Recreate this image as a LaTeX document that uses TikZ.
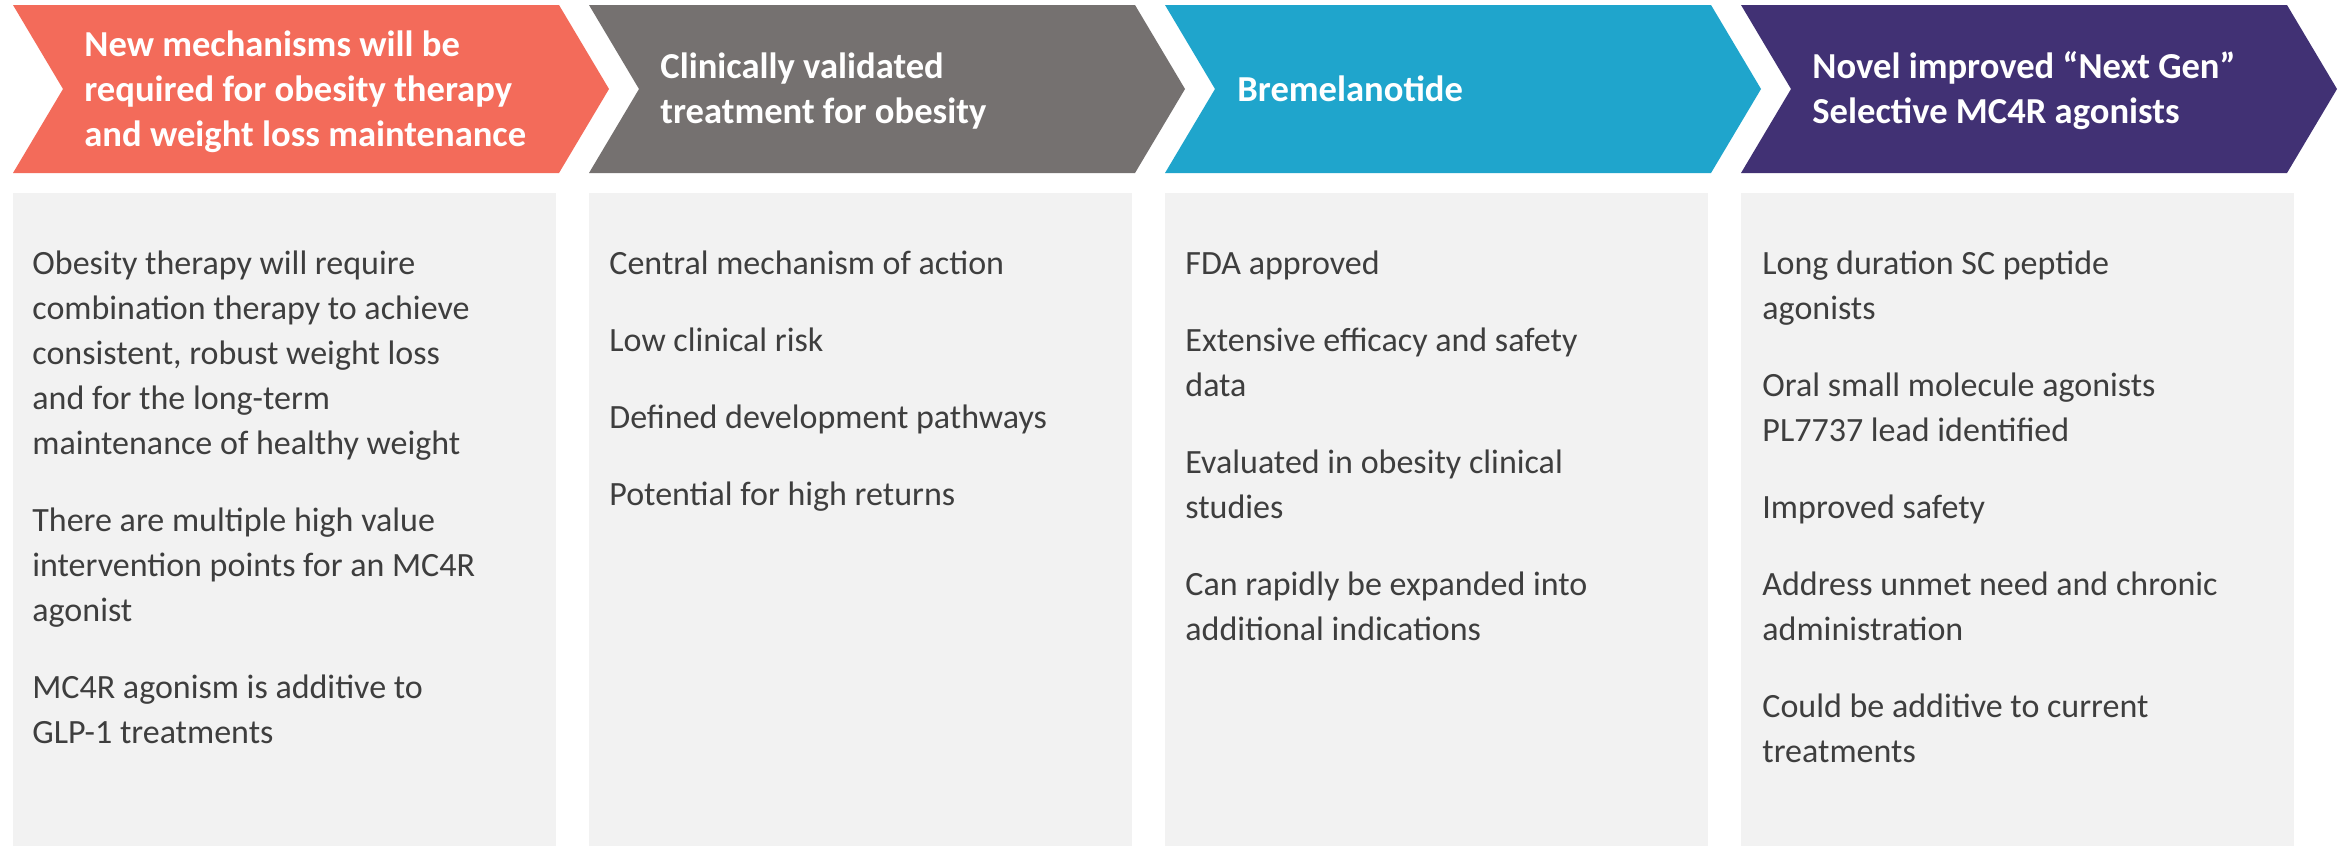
\documentclass[tikz,border=0pt]{standalone}
\usepackage{fontspec}
\setmainfont{Carlito}
\definecolor{cCoral}{RGB}{243,107,90}
\definecolor{cGrey}{RGB}{117,113,112}
\definecolor{cBlue}{RGB}{31,165,204}
\definecolor{cPurple}{RGB}{65,49,116}
\definecolor{cBox}{RGB}{242,242,242}
\definecolor{cText}{RGB}{62,62,62}
\def\linebrk{\hfil\break}
\newcommand{\chevronat}[2]{\fill[#2] (#1,5) -- ++(546,0) -- ++(50,84) -- ++(-50,84) -- ++(-546,0) -- ++(50,-84) -- cycle;}
\newcommand{\paneat}[2]{\fill[cBox] (#1,193) rectangle ++(#2,653);}
\newcommand{\paras}[1]{\vtop{\hsize=330pt\parindent=0pt\parskip=16pt\relax #1\par}}
\tikzset{
  hdrtext/.style={anchor=base west, inner sep=0pt, text=white,
    font=\fontsize{18.3pt}{22.5pt}\selectfont\bfseries},
  bodytext/.style={anchor=base west, inner sep=0pt, text=cText,
    font=\fontsize{17pt}{22.5pt}\selectfont},
}
\begin{document}
\begin{tikzpicture}[x=0.5pt,y=-0.5pt]
\useasboundingbox (0,0) rectangle (2348,847);
\fill[white] (0,0) rectangle (2348,847);
% chevrons
\chevronat{13}{cCoral}
\chevronat{589}{cGrey}
\chevronat{1165}{cBlue}
\chevronat{1741}{cPurple}
% panels
\paneat{13}{543}
\paneat{589}{543}
\paneat{1165}{543}
\paneat{1741}{553}
% headers
\node[hdrtext] (h1) at (84,56.5) {\paras{New mechanisms will be\linebrk required for obesity therapy\linebrk and weight loss maintenance}};
\node[hdrtext] (h2) at (660,78) {\paras{Clinically validated\linebrk treatment for obesity}};
\node[hdrtext] (h3) at (1237,101) {\paras{Bremelanotide}};
\node[hdrtext] (h4) at (1812,78) {\paras{Novel improved “Next Gen”\linebrk Selective MC4R agonists}};
% bodies
\node[bodytext] (b1) at (32,274) {\paras{%
Obesity therapy will require\linebrk combination therapy to achieve\linebrk consistent, robust weight loss\linebrk and for the long-term\linebrk maintenance of healthy weight\par
There are multiple high value\linebrk intervention points for an MC4R\linebrk agonist\par
MC4R agonism is additive to\linebrk GLP-1 treatments}};
\node[bodytext] (b2) at (609,274) {\paras{%
Central mechanism of action\par
Low clinical risk\par
Defined development pathways\par
Potential for high returns}};
\node[bodytext] (b3) at (1185,274) {\paras{%
FDA approved\par
Extensive efficacy and safety\linebrk data\par
Evaluated in obesity clinical\linebrk studies\par
Can rapidly be expanded into\linebrk additional indications}};
\node[bodytext] (b4) at (1762,274) {\paras{%
Long duration SC peptide\linebrk agonists\par
Oral small molecule agonists\linebrk PL7737 lead identified\par
Improved safety\par
Address unmet need and chronic\linebrk administration\par
Could be additive to current\linebrk treatments}};
\end{tikzpicture}
\end{document}
